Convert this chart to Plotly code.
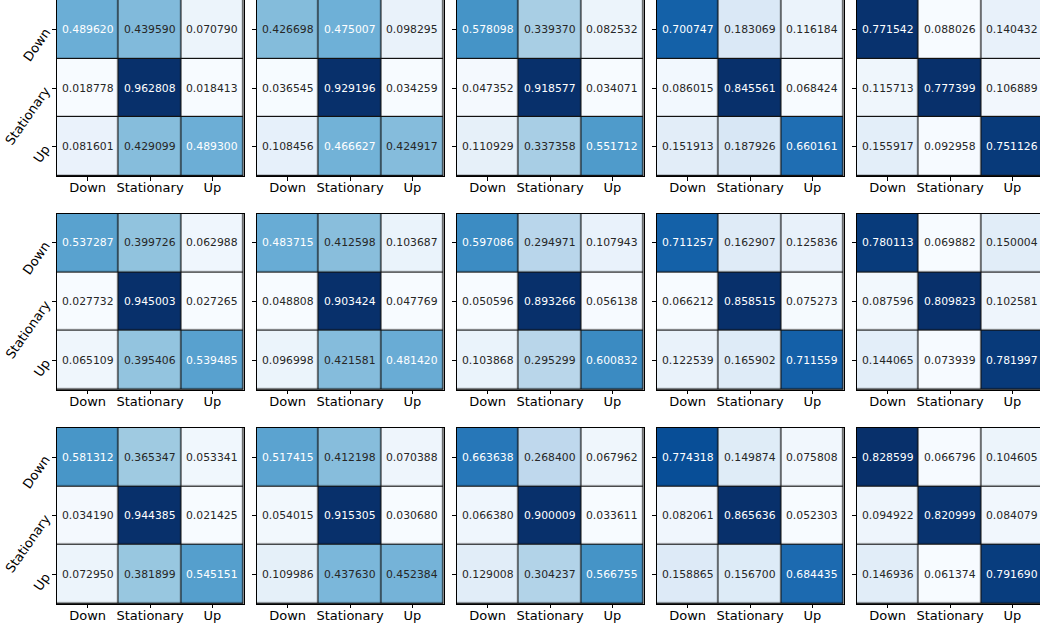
import plotly.graph_objects as go

# ---------------- data ----------------
states = ["Down", "Stationary", "Up"]

r1_c1 = [[0.489620, 0.439590, 0.070790], [0.018778, 0.962808, 0.018413], [0.081601, 0.429099, 0.489300]]
r1_c2 = [[0.426698, 0.475007, 0.098295], [0.036545, 0.929196, 0.034259], [0.108456, 0.466627, 0.424917]]
r1_c3 = [[0.578098, 0.339370, 0.082532], [0.047352, 0.918577, 0.034071], [0.110929, 0.337358, 0.551712]]
r1_c4 = [[0.700747, 0.183069, 0.116184], [0.086015, 0.845561, 0.068424], [0.151913, 0.187926, 0.660161]]
r1_c5 = [[0.771542, 0.088026, 0.140432], [0.115713, 0.777399, 0.106889], [0.155917, 0.092958, 0.751126]]

r2_c1 = [[0.537287, 0.399726, 0.062988], [0.027732, 0.945003, 0.027265], [0.065109, 0.395406, 0.539485]]
r2_c2 = [[0.483715, 0.412598, 0.103687], [0.048808, 0.903424, 0.047769], [0.096998, 0.421581, 0.481420]]
r2_c3 = [[0.597086, 0.294971, 0.107943], [0.050596, 0.893266, 0.056138], [0.103868, 0.295299, 0.600832]]
r2_c4 = [[0.711257, 0.162907, 0.125836], [0.066212, 0.858515, 0.075273], [0.122539, 0.165902, 0.711559]]
r2_c5 = [[0.780113, 0.069882, 0.150004], [0.087596, 0.809823, 0.102581], [0.144065, 0.073939, 0.781997]]

r3_c1 = [[0.581312, 0.365347, 0.053341], [0.034190, 0.944385, 0.021425], [0.072950, 0.381899, 0.545151]]
r3_c2 = [[0.517415, 0.412198, 0.070388], [0.054015, 0.915305, 0.030680], [0.109986, 0.437630, 0.452384]]
r3_c3 = [[0.663638, 0.268400, 0.067962], [0.066380, 0.900009, 0.033611], [0.129008, 0.304237, 0.566755]]
r3_c4 = [[0.774318, 0.149874, 0.075808], [0.082061, 0.865636, 0.052303], [0.158865, 0.156700, 0.684435]]
r3_c5 = [[0.828599, 0.066796, 0.104605], [0.094922, 0.820999, 0.084079], [0.146936, 0.061374, 0.791690]]

panels = [
    [r1_c1, r1_c2, r1_c3, r1_c4, r1_c5],
    [r2_c1, r2_c2, r2_c3, r2_c4, r2_c5],
    [r3_c1, r3_c2, r3_c3, r3_c4, r3_c5],
]

# ---------------- style ----------------
W, H = 1040, 628
blues_hex = ["#f7fbff", "#deebf7", "#c6dbef", "#9ecae1", "#6baed6",
             "#4292c6", "#2171b5", "#08519c", "#08306b"]
colorscale = [[i / 8, c] for i, c in enumerate(blues_hex)]
blues_rgb = [tuple(int(h[k:k + 2], 16) for k in (1, 3, 5)) for h in blues_hex]


def blues(t):
    t = min(max(t, 0.0), 1.0)
    pos = t * 8
    i = min(int(pos), 7)
    f = pos - i
    a, b = blues_rgb[i], blues_rgb[i + 1]
    return tuple(a[k] + (b[k] - a[k]) * f for k in range(3))


def rel_lum(rgb):
    out = []
    for v in rgb:
        v = v / 255.0
        out.append(v / 12.92 if v <= 0.03928 else ((v + 0.055) / 1.055) ** 2.4)
    return 0.2126 * out[0] + 0.7152 * out[1] + 0.0722 * out[2]


FONT = "DejaVu Sans"
col_left_px = [56.5, 256.5, 456.5, 656.5, 856.5]
panel_w_px = 187.0
row_top_px = [0.0, 213.6, 427.7]
panel_h_px = 176.2
YLABEL_ANGLE = -55

fig = go.Figure()
annotations = []
layout = {}

for r in range(3):
    for c in range(5):
        idx = r * 5 + c
        sfx = "" if idx == 0 else str(idx + 1)
        z = panels[r][c]
        flat = [v for row in z for v in row]
        zmin, zmax = min(flat), max(flat)
        fig.add_trace(go.Heatmap(
            z=z, x=states, y=states, colorscale=colorscale,
            zmin=zmin, zmax=zmax, showscale=False, xgap=1.2, ygap=1.2,
            hoverinfo="skip", xaxis="x" + sfx, yaxis="y" + sfx,
        ))
        x0 = col_left_px[c] / W
        x1 = min((col_left_px[c] + panel_w_px) / W, 1.0)
        cell_w = panel_w_px / 3
        xr_end = 2.5 - max(0.0, (col_left_px[c] + panel_w_px - W)) / cell_w
        y1 = 1 - row_top_px[r] / H
        y0 = 1 - (row_top_px[r] + panel_h_px) / H
        last = c == 4
        layout["xaxis" + sfx] = dict(
            domain=[x0, x1], anchor="y" + sfx, type="category",
            range=[-0.5, xr_end], showgrid=False, zeroline=False,
            showline=True, mirror=True, linecolor="#000", linewidth=1,
            ticks="outside", ticklen=3.5, tickwidth=0.8, tickcolor="#000",
            tickfont=dict(family=FONT, size=13, color="#000"),
            ticklabelstandoff=-4, automargin=False,
            fixedrange=True,
        )
        layout["yaxis" + sfx] = dict(
            domain=[y0, y1], anchor="x" + sfx, type="category",
            range=[2.5, -0.5], showgrid=False, zeroline=False,
            showline=True, mirror=not last, linecolor="#000", linewidth=1,
            ticks="outside", ticklen=3.5, tickwidth=0.8, tickcolor="#000",
            showticklabels=False, automargin=False,
            fixedrange=True,
        )
        # rotated row labels on the first column (anchored at their right end)
        if c == 0:
            for s in states:
                annotations.append(dict(
                    x=0, xref=f"x{sfx} domain", y=s, yref="y" + sfx,
                    xanchor="right", yanchor="top", xshift=-1.5, yshift=6,
                    text=s, showarrow=False, textangle=YLABEL_ANGLE,
                    borderpad=0,
                    font=dict(family=FONT, size=13, color="#000"),
                ))
        for i in range(3):
            for j in range(3):
                v = z[i][j]
                t = (v - zmin) / (zmax - zmin)
                col = "#262626" if rel_lum(blues(t)) > 0.408 else "#ffffff"
                annotations.append(dict(
                    x=states[j], y=states[i], xref="x" + sfx, yref="y" + sfx,
                    text=f"{v:.6f}", showarrow=False,
                    font=dict(family=FONT, size=10.8, color=col),
                ))

fig.update_layout(
    width=W, height=H, margin=dict(l=0, r=0, t=0, b=0, autoexpand=False),
    paper_bgcolor="white", plot_bgcolor="#111111",
    showlegend=False, annotations=annotations, **layout,
)

fig.write_html(
    "out.html",
    config={"displayModeBar": False},
    post_script="document.body.style.margin='0';document.body.style.overflow='hidden';",
)
